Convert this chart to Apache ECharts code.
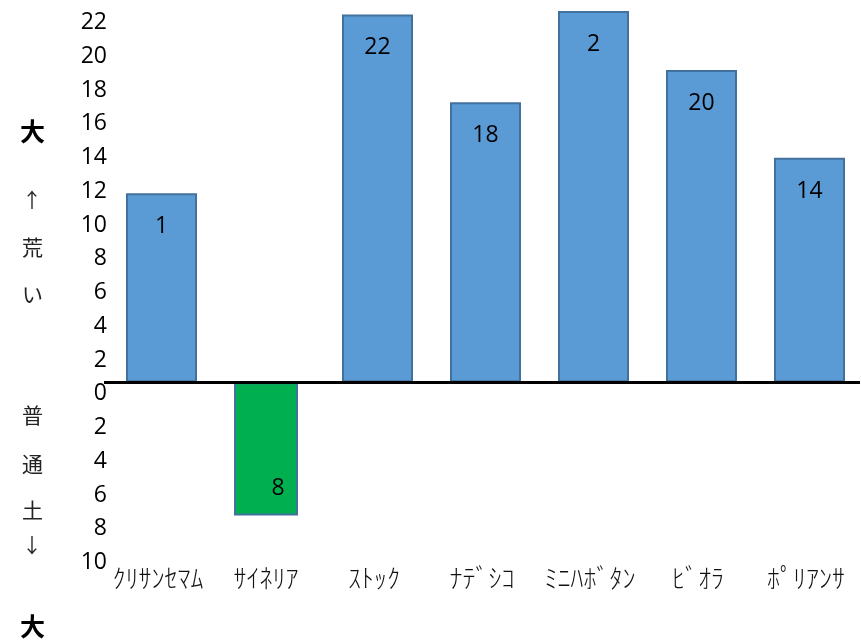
<!DOCTYPE html>
<html>
<head>
<meta charset="utf-8">
<script src="https://cdn.jsdelivr.net/npm/echarts@6/dist/echarts.min.js"></script>
<style>html,body{margin:0;padding:0;background:#fff;}#c{width:861px;height:641px;}</style>
</head>
<body>
<div id="c"></div>
<script>
var categories = ['ｸﾘｻﾝｾﾏﾑ', 'ｻｲﾈﾘｱ', 'ｽﾄｯｸ', 'ﾅﾃﾞｼｺ', 'ﾐﾆﾊﾎﾞﾀﾝ', 'ﾋﾞｵﾗ', 'ﾎﾟﾘｱﾝｻ'];
var roughValues = [11.2, null, 21.8, 16.6, 22.0, 18.5, 13.3];
var normalValues = [null, -7.9, null, null, null, null, null];
var barLabels = ['1', '8', '22', '18', '2', '20', '14'];
var yMin = -10, yMax = 22, yStep = 2;

var chart = echarts.init(document.getElementById('c'));
var numFont = 'Open Sans';
chart.setOption({
  animation: false,
  grid: {left: 104, right: 1, top: 11, bottom: 90},
  xAxis: {
    type: 'category',
    data: categories,
    axisLine: {show: false, onZero: false},
    axisTick: {show: false},
    axisLabel: {fontFamily: 'Noto Sans CJK JP', fontWeight: 300, fontSize: 26, color: '#111', margin: 14, interval: 0}
  },
  yAxis: {
    type: 'value',
    min: yMin, max: yMax, interval: yStep,
    axisLine: {show: false},
    axisTick: {show: false},
    splitLine: {show: false},
    axisLabel: {
      fontFamily: numFont, fontSize: 23, color: '#000', margin: -3, verticalAlign: 'top',
      formatter: function (v) { return String(Math.abs(v)); }
    }
  },
  graphic: [
    {type: 'text', left: 20, top: 119, style: {text: '大', font: 'bold 25px "Noto Sans CJK JP"', fill: '#000'}},
    {type: 'text', left: 22, top: 190, style: {text: '↑', font: '20px "Noto Sans CJK JP"', fill: '#222'}},
    {type: 'text', left: 22, top: 237, style: {text: '荒', font: '21px "Noto Sans CJK JP"', fill: '#222'}},
    {type: 'text', left: 22, top: 284, style: {text: 'い', font: '21px "Noto Sans CJK JP"', fill: '#222'}},
    {type: 'text', left: 22, top: 405, style: {text: '普', font: '21px "Noto Sans CJK JP"', fill: '#222'}},
    {type: 'text', left: 22, top: 454, style: {text: '通', font: '21px "Noto Sans CJK JP"', fill: '#222'}},
    {type: 'text', left: 22, top: 500, style: {text: '土', font: '21px "Noto Sans CJK JP"', fill: '#222'}},
    {type: 'text', left: 22, top: 535, style: {text: '↓', font: '20px "Noto Sans CJK JP"', fill: '#222'}},
    {type: 'text', left: 20, top: 614, style: {text: '大', font: 'bold 25px "Noto Sans CJK JP"', fill: '#000'}}
  ],
  series: [
    {
      type: 'bar',
      name: '荒い',
      data: roughValues,
      barWidth: 71,
      barGap: '-100%',
      itemStyle: {color: '#5B9BD5', borderColor: '#41719C', borderWidth: 2},
      label: {
        show: true, position: 'insideTop', distance: 22,
        fontFamily: numFont, fontSize: 23, color: '#000',
        formatter: function (p) { return barLabels[p.dataIndex]; }
      },
      markLine: {
        silent: true,
        symbol: 'none',
        label: {show: false},
        lineStyle: {color: '#000', width: 3, type: 'solid'},
        data: [{yAxis: 0}]
      }
    },
    {
      type: 'bar',
      name: '普通土',
      data: normalValues,
      barWidth: 64,
      barGap: '-100%',
      itemStyle: {color: '#00B050', borderColor: '#41719C', borderWidth: 2},
      label: {
        show: true, position: 'insideBottom', distance: 16, offset: [12, 0],
        fontFamily: numFont, fontSize: 23, color: '#000',
        formatter: function (p) { return barLabels[p.dataIndex]; }
      }
    }
  ]
});
</script>
</body>
</html>
